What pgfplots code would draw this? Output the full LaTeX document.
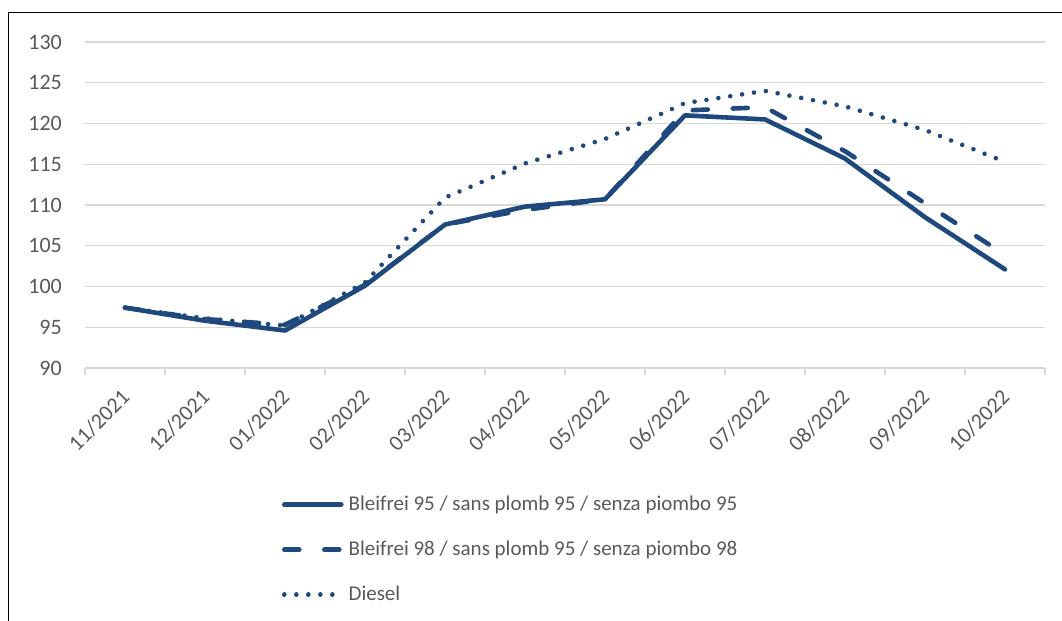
\documentclass[border=0pt]{standalone}
\usepackage{pgfplots}
\pgfplotsset{compat=1.18}
\usepackage{fontspec}
\setmainfont{Carlito}
\definecolor{ser}{HTML}{1F497D}
\definecolor{txt}{HTML}{595959}
\definecolor{grd}{HTML}{D9D9D9}
\begin{document}
\begin{tikzpicture}[font=\fontsize{22bp}{26bp}\selectfont]
\begin{axis}[
  at={(85bp,-368bp)}, anchor=south west,
  scale only axis, width=960bp, height=326bp,
  xmin=-0.5, xmax=11.5, ymin=90, ymax=130,
  ytick={90,95,...,130},
  xtick={0,...,11},
  xticklabels={11/2021,12/2021,01/2022,02/2022,03/2022,04/2022,05/2022,06/2022,07/2022,08/2022,09/2022,10/2022},
  minor xtick={-0.5,0.5,...,11.5},
  /pgf/number format/assume math mode=true,
  axis line style={draw=none},
  ymajorgrids, grid style={grd, line width=1.3bp},
  major tick length=0pt, minor tick length=7bp,
  tick align=outside, xtick pos=bottom, ytick pos=left,
  minor x tick style={grd, line width=1.3bp},
  major tick style={draw=none},
  tick label style={text=txt, font=\fontsize{22bp}{26bp}\selectfont},
  yticklabel style={anchor=east, inner sep=0pt, xshift=-23bp},
  xticklabel style={xshift=-5bp, yshift=-20bp, rotate=45, anchor=north east, inner sep=0pt},
  legend style={at={(rel axis cs:0.205,-0.3865)}, anchor=north west, draw=none, fill=none,
    inner sep=0pt, row sep=24bp, column sep=5bp, font=\fontsize{21bp}{25bp}\selectfont, text=txt,
    nodes={inner sep=0pt, text height=16bp, text depth=5bp}},
  legend cell align=left,
  legend image code/.code={\draw[#1] (2bp,0bp) -- (59bp,0bp);},
  every axis plot/.append style={ser, line width=4.6bp, line join=round, line cap=round},
]
\addplot[solid] coordinates {(0,97.4) (1,95.8) (2,94.6) (3,100.1) (4,107.6) (5,109.8) (6,110.7) (7,121.0) (8,120.5) (9,115.7) (10,108.5) (11,102.1)};
\addlegendentry{Bleifrei 95 / sans plomb 95 / senza piombo 95}
\addplot[dash pattern=on 15bp off 25bp] coordinates {(0,97.4) (1,96.0) (2,95.3) (3,100.2) (4,107.6) (5,109.4) (6,110.7) (7,121.6) (8,122.0) (9,116.6) (10,110.2) (11,103.9)};
\addlegendentry{Bleifrei 98 / sans plomb 95 / senza piombo 98}
\addplot[dash pattern=on 0.01bp off 12bp] coordinates {(0,97.4) (1,96.1) (2,95.2) (3,100.5) (4,110.9) (5,115.1) (6,118.1) (7,122.5) (8,124.0) (9,122.1) (10,119.2) (11,115.3)};
\addlegendentry{Diesel}
\end{axis}
\pgfresetboundingbox
\useasboundingbox (0,0) rectangle (1062bp,-621bp);
\draw[line width=1.5bp, black] (8.5bp,-621bp) -- (8.5bp,-12.5bp) -- (1062bp,-12.5bp);
\end{tikzpicture}
\end{document}
